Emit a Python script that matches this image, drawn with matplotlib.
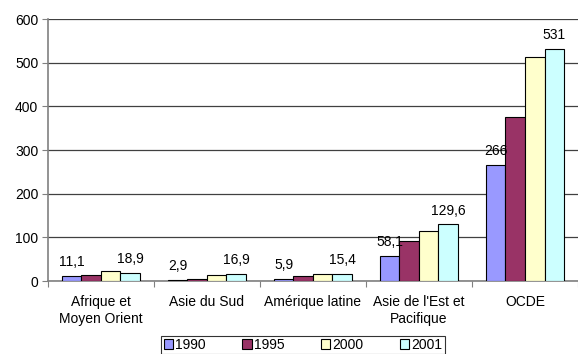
import numpy as np
import matplotlib
matplotlib.use("Agg")
import matplotlib.pyplot as plt
from matplotlib.patches import Patch

plt.rcParams['font.family'] = ['Liberation Sans', 'DejaVu Sans']

regions = ["Afrique et\nMoyen Orient", "Asie du Sud", "Amérique latine",
           "Asie de l'Est et\nPacifique", "OCDE"]
years = ["1990", "1995", "2000", "2001"]
v1990 = [11.1, 2.9, 5.9, 58.1, 266]
v1995 = [15, 4, 10.5, 91, 375]
v2000 = [22, 14, 16.5, 114, 514]
v2001 = [18.9, 16.9, 15.4, 129.6, 531]
labels_1990 = ["11,1", "2,9", "5,9", "58,1", "266"]
labels_2001 = ["18,9", "16,9", "15,4", "129,6", "531"]

colors = ["#9999FF", "#993366", "#FFFFCC", "#CCFFFF"]
fs = 10

fig = plt.figure(figsize=(5.78, 3.54), dpi=100)
ax = fig.add_axes([0.083, 0.206, 0.917, 0.74])

x = np.arange(len(regions))
w = 0.184
series = [v1990, v1995, v2000, v2001]
bars = []
for i, vals in enumerate(series):
    b = ax.bar(x + (i - 1.5) * w, vals, w, color=colors[i], edgecolor="black",
               linewidth=0.8, zorder=3)
    bars.append(b)

ax.bar_label(bars[0], labels=labels_1990, padding=5, fontsize=fs)
ax.bar_label(bars[3], labels=labels_2001, padding=5, fontsize=fs)

ax.set_xlim(-0.5, 4.5)
ax.set_ylim(0, 600)
ax.set_yticks(range(0, 601, 100))
ax.yaxis.grid(True, color="#404040", linewidth=0.9, zorder=0)
ax.set_axisbelow(True)

# group boundary ticks on the x axis, labels centered under groups
ax.set_xticks(np.arange(-0.5, 5.0, 1.0))
ax.set_xticklabels([])
ax.set_xticks(x, minor=True)
ax.set_xticklabels(regions, minor=True, fontsize=fs, linespacing=1.25)
ax.tick_params(axis="x", which="minor", length=0, pad=10)
ax.tick_params(axis="x", which="major", length=4, color="#808080", direction="out")
ax.tick_params(axis="y", length=4, color="#808080", labelsize=fs, pad=3)

for s in ["top", "right"]:
    ax.spines[s].set_visible(False)
for s in ["left", "bottom"]:
    ax.spines[s].set_color("#808080")
    ax.spines[s].set_linewidth(1.2)

handles = [Patch(facecolor=c, edgecolor="black", linewidth=0.8) for c in colors]
leg = fig.legend(handles, years, loc="upper center", ncol=4,
                 bbox_to_anchor=(303 / 578, 1 - 336 / 354), fontsize=fs,
                 frameon=True, fancybox=False, edgecolor="black",
                 handlelength=0.7, handleheight=0.7, handletextpad=0.15,
                 columnspacing=2.6, borderpad=0.15, borderaxespad=0)
leg.get_frame().set_linewidth(0.8)

fig.savefig("out.png", dpi=100)
